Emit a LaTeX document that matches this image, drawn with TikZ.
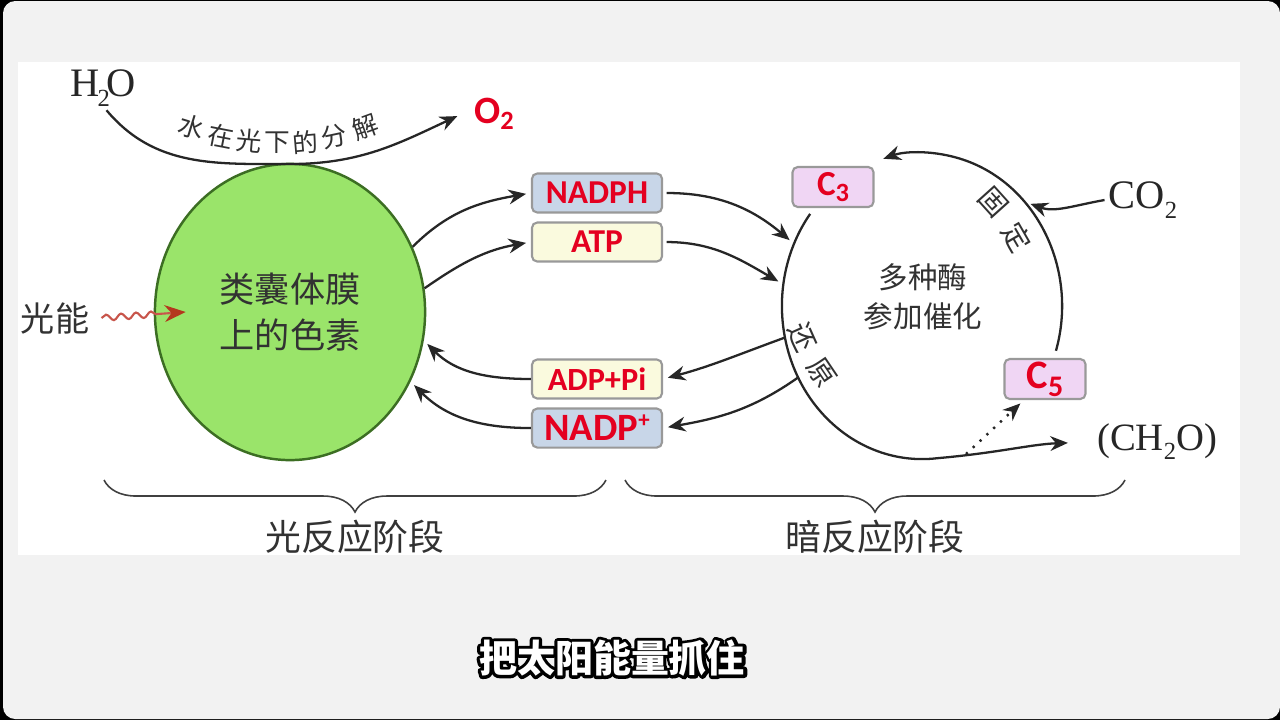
\documentclass[tikz,border=0pt]{standalone}
\usepackage{fontspec}
\usetikzlibrary{arrows.meta,shapes.geometric,decorations.pathmorphing,decorations.pathreplacing}

\setmainfont{Liberation Serif}
\newfontfamily\cjk{Noto Sans CJK SC}
\newfontfamily\lab{Carlito}

\definecolor{labred}{RGB}{228,0,32}
\definecolor{bluebox}{RGB}{200,214,232}
\definecolor{yellowbox}{RGB}{250,250,222}
\definecolor{pinkbox}{RGB}{240,214,244}
\definecolor{leafgreen}{RGB}{154,228,106}
\definecolor{leafedge}{RGB}{60,110,35}
\definecolor{inkgray}{RGB}{50,50,50}
\definecolor{framegray}{RGB}{242,242,242}
\definecolor{wavered}{RGB}{200,85,75}
\definecolor{tipbrown}{RGB}{180,55,30}

\tikzstyle{molbox} = [rectangle, rounded corners=1.5pt, minimum width=1.3cm, minimum height=0.39cm, inner sep=0pt, draw=gray!80, line width=0.6pt, text=labred, font=\lab\bfseries\fontsize{9.5pt}{10pt}\selectfont]
\tikzstyle{cbox} = [molbox, minimum width=0.81cm, minimum height=0.4cm, fill=pinkbox]
\tikzstyle{arr} = [-{Stealth[length=5pt,width=4.2pt]}, line width=0.65pt, black!85, shorten >=1.4pt]
\tikzstyle{zh} = [text=inkgray, font=\cjk\fontsize{10pt}{13pt}\selectfont]
\tikzstyle{chem} = [text=black!85, inner sep=1pt, font=\fontsize{11.5pt}{12pt}\selectfont]
\tikzstyle{brace} = [decorate, decoration={brace, mirror, amplitude=3.2mm}, line width=0.45pt, black!75]
\tikzstyle{wave} = [decorate, decoration={snake, segment length=1.5mm, amplitude=0.3mm, post length=2.8mm}, wavered, line width=0.6pt, -{Stealth[length=6pt,width=4.8pt,color=tipbrown]}]
\tikzstyle{subtitle} = [font=\cjk\bfseries\fontsize{10.8pt}{12pt}\selectfont]

\begin{document}
\begin{tikzpicture}[x=0.01cm, y=0.01cm, node distance=0.49cm]
\useasboundingbox (0,0) rectangle (1280,720);
\fill[black] (0,0) rectangle (1280,720);
\fill[framegray, rounded corners=3.5pt] (3,1) rectangle (1280,719);
\fill[white] (18,165) rectangle (1240,658);

% light stage
\node (thyl) [ellipse, draw=leafedge, line width=0.7pt, fill=leafgreen, minimum width=2.7cm, minimum height=2.96cm, zh, align=center] at (290,408) {类囊体膜\\上的色素};
\node (light) [zh, font=\cjk\fontsize{9.7pt}{12pt}\selectfont] at (55,402) {光能};
\draw [wave] (light.east) -- ([xshift=3.2mm]thyl.west);

\node (h2o) [chem] at (103,632) {H\kern-.04em\raisebox{-.5ex}{\fontsize{7pt}{7pt}\selectfont 2}\kern-.08em O};
\node (o2) [text=labred, font=\lab\bfseries\fontsize{11pt}{12pt}\selectfont] at (494,606) {O\raisebox{-.35ex}{\fontsize{7.5pt}{8pt}\selectfont 2}};
\coordinate (dip) at (290,556);
\draw [arr] ([xshift=1pt]h2o.south) to[out=-50,in=180] (dip) to[out=0,in=205] (o2.west);
\foreach \ch/\x/\y/\r [count=\i] in {水/192/593/-17, 在/221/584/-11, 光/249/579/-5, 下/277/577/0, 的/305/578/5, 分/334/583/12, 解/365/593/20}
  \node (water\i) [zh, inner sep=0pt, font=\cjk\fontsize{7.3pt}{8pt}\selectfont, rotate=\r] at (\x,\y) {\ch};

% carriers
\node (nadph) [molbox, fill=bluebox] at (597,527) {NADPH};
\node (atp) [molbox, fill=yellowbox, below of=nadph] {ATP};
\node (adp) [molbox, fill=yellowbox, font=\lab\bfseries\fontsize{9.2pt}{10pt}\selectfont] at (597,341) {ADP+Pi};
\node (nadp) [molbox, fill=bluebox, below of=adp, font=\lab\bfseries\fontsize{11pt}{12pt}\selectfont] {NADP\raisebox{.7ex}{\fontsize{6.5pt}{7pt}\selectfont +}};

\draw [arr] (thyl.28) to[out=45,in=190] (nadph.west);
\draw [arr] (thyl.10) to[out=35,in=190] (atp.west);
\draw [arr] (adp.west) to[out=180,in=-45] (thyl.-12);
\draw [arr] (nadp.west) to[out=180,in=-45] (thyl.-30);

% dark stage
\node (cyc) [ellipse, minimum width=2.8cm, minimum height=3.06cm] at (922,414) {};
\node (enz) [zh, font=\cjk\fontsize{8.4pt}{11pt}\selectfont, align=center] at (923,423) {多种酶\\参加催化};
\node (c3) [cbox, font=\lab\bfseries\fontsize{10pt}{11pt}\selectfont] at (833,533) {C\raisebox{-.4ex}{\fontsize{7.5pt}{8pt}\selectfont 3}};
\node (c5) [cbox, font=\lab\bfseries\fontsize{11.5pt}{12pt}\selectfont] at (1045,341) {C\raisebox{-.4ex}{\fontsize{8.5pt}{9pt}\selectfont 5}};
\node (co2) [chem] at (1143,520) {CO\raisebox{-.5ex}{\fontsize{7pt}{7pt}\selectfont 2}};
\node (ch2o) [chem, font=\fontsize{11pt}{12pt}\selectfont] at (1157,278) {(CH\raisebox{-.5ex}{\fontsize{7pt}{7pt}\selectfont 2}O)};

\draw [arr, shorten >=2.5mm] ([shift={(143:1.4cm and 1.53cm)}]cyc.center) arc[start angle=143, end angle=276, x radius=1.4cm, y radius=1.53cm] to[out=5,in=182] (ch2o.west);
\draw [arr] ([shift={(-17:1.4cm and 1.53cm)}]cyc.center) arc[start angle=-17, end angle=108, x radius=1.4cm, y radius=1.53cm];
\coordinate (split) at (966,266);
\draw [arr, dotted, line width=0.7pt] (split) -- (c5.-135);
\draw [arr] (co2.west) to[out=190,in=-20] (cyc.45);

\node (gu) [zh, font=\cjk\fontsize{8pt}{9pt}\selectfont, rotate=-48] at (993,518) {固};
\node (ding) [zh, font=\cjk\fontsize{8pt}{9pt}\selectfont, rotate=-60] at (1017,483) {定};
\node (huan) [zh, font=\cjk\fontsize{8pt}{9pt}\selectfont, rotate=-66] at (803,383) {还};
\node (yuan) [zh, font=\cjk\fontsize{8pt}{9pt}\selectfont, rotate=-56] at (822,347) {原};

\draw [arr, shorten <=1pt] (nadph.east) to[out=0,in=140] (cyc.154);
\draw [arr, shorten <=1pt] (atp.east) to[out=0,in=150] (cyc.171);
\draw [arr] (cyc.193) to[out=200,in=15] (adp.east);
\draw [arr] (cyc.210) to[out=215,in=10] (nadp.east);

% stages
\coordinate (lbl) at (104,240);
\coordinate (lbr) at (606,240);
\coordinate (rbl) at (625,240);
\coordinate (rbr) at (1125,240);
\draw [brace] (lbl) -- (lbr);
\draw [brace] (rbl) -- (rbr);
\node (lstage) [zh, font=\cjk\fontsize{10.2pt}{12pt}\selectfont] at (355,183) {光反应阶段};
\node (dstage) [zh, font=\cjk\fontsize{10.2pt}{12pt}\selectfont] at (875,183) {暗反应阶段};

% subtitle: stroked outline under a white fill
\node (caption) [subtitle] at (612,62) {\special{pdf:code 1 Tr 1.8 w 1 j 0 G}把太阳能量抓住\special{pdf:code 0 Tr}};
\node (captionfill) [subtitle, text=white] at (caption.center) {把太阳能量抓住};
\end{tikzpicture}
\end{document}
